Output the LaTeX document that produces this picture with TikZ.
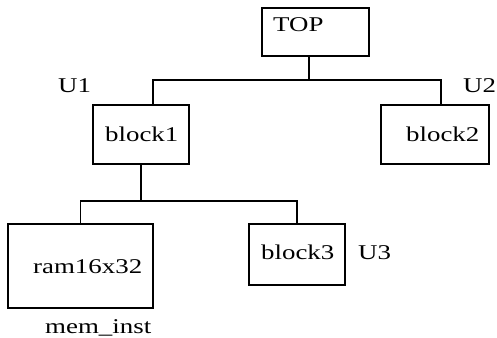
\documentclass[tikz,border=0pt]{standalone}
\usepackage{fontspec}
\setmainfont{Liberation Serif}
\usepackage{graphicx}

\newcommand{\wide}[1]{\scalebox{1.28}[1]{#1}}

\tikzset{
  box/.style={draw, line width=1.7pt, inner sep=0pt, outer sep=0pt, anchor=north west},
  txt/.style={anchor=base west, inner sep=0pt, font=\fontsize{21}{25}\selectfont},
  wire/.style={line width=1.7pt},
}

\begin{document}
\begin{tikzpicture}[x=1pt, y=-1pt]
\useasboundingbox (0,0) rectangle (497,337);
% boxes
\node[box, minimum width=107pt, minimum height=48pt] (top) at (262,8) {};
\node[box, minimum width=96pt, minimum height=59pt] (b1) at (93,105) {};
\node[box, minimum width=108pt, minimum height=59pt] (b2) at (381,105) {};
\node[box, minimum width=145pt, minimum height=84pt] (ram) at (8,224) {};
\node[box, minimum width=96pt, minimum height=61pt] (b3) at (249,224) {};
% forks
\coordinate (f1) at (309,80);
\coordinate (u1j) at (153,80);
\coordinate (u2j) at (441,80);
\coordinate (f2) at (141,201);
\draw[wire] (f1 |- top.south) -- (f1);
\draw[wire] (u1j |- b1.north) -- (u1j) -- (u2j) -- (u2j |- b2.north);
\draw[wire] (b1.south) -- (b1.south |- f2);
\draw[wire] (ram.north) |- (f2) -| (b3.north);
% labels
\node[txt] (ttop) at (273,31) {\wide{TOP}};
\node[txt] (tb1) at (105,141) {\wide{block1}};
\node[txt] (tb2) at (406,141) {\wide{block2}};
\node[txt] (tram) at (33,273) {\wide{ram16x32}};
\node[txt] (tb3) at (261,259) {\wide{block3}};
\node[txt] (u1) at (58,92) {\wide{U1}};
\node[txt] (u2) at (463,92) {\wide{U2}};
\node[txt] (u3) at (358,259) {\wide{U3}};
\node[txt] (inst) at (45,333) {\wide{mem\_inst}};
\end{tikzpicture}
\end{document}
